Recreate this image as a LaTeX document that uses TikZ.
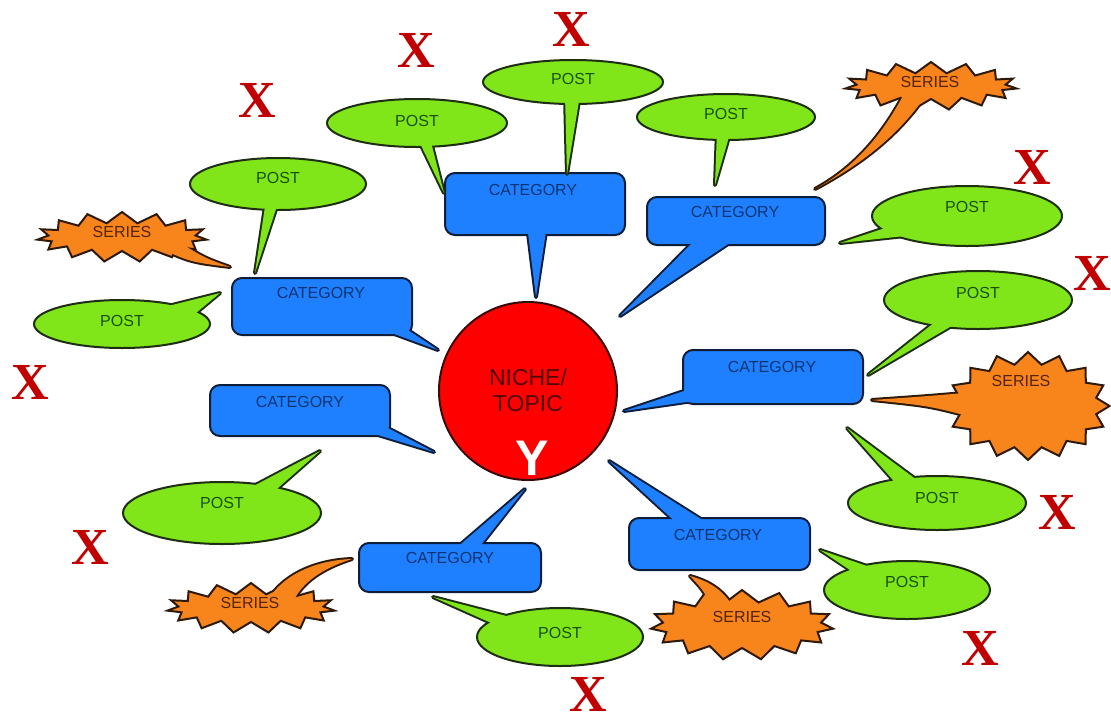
\documentclass[tikz,border=0pt]{standalone}
\usepackage{fontspec}
\setmainfont{Liberation Sans}
\newfontfamily\markfont{Liberation Serif}
\usetikzlibrary{shapes.geometric,shapes.symbols}

% palette
\definecolor{postfill}{HTML}{80E61A}
\definecolor{postedge}{HTML}{1E2E12}
\definecolor{posttxt}{HTML}{185208}
\definecolor{catfill}{HTML}{1E80FF}
\definecolor{catedge}{HTML}{0E1E3A}
\definecolor{cattxt}{HTML}{0B3475}
\definecolor{seriesfill}{HTML}{F8841C}
\definecolor{seriesedge}{HTML}{2E1A0A}
\definecolor{seriestxt}{HTML}{55220A}
\definecolor{nichefill}{HTML}{FF0000}
\definecolor{nicheedge}{HTML}{3A0A0A}
\definecolor{nichetxt}{HTML}{500808}
\definecolor{xred}{HTML}{C00000}

\tikzset{
  postbody/.style={ellipse, fill=postfill, draw=postedge, line width=2pt, inner sep=0pt},
  catbody/.style={rectangle, rounded corners=10pt, fill=catfill, draw=catedge, line width=2pt, inner sep=0pt},
  seriesbody/.style={starburst, starburst points=15, starburst point height=11pt, random starburst=0,
    fill=seriesfill, draw=seriesedge, line width=2pt, inner sep=0pt},
  posttext/.style={text=posttxt, font=\fontsize{16}{16}\selectfont},
  cattext/.style={text=cattxt, font=\fontsize{16}{16}\selectfont},
  seriestext/.style={text=seriestxt, font=\fontsize{16}{16}\selectfont},
  hubtext/.style={text=nichetxt, align=center, font=\fontsize{23}{26}\selectfont},
  ymark/.style={text=white, font=\bfseries\fontsize{50}{50}\selectfont, inner sep=0pt},
  xmark/.style={text=xred, font=\markfont\bfseries\fontsize{52}{52}\selectfont, inner sep=0pt},
}

% A speech bubble: tail with outline, then the body, then the tail
% filled again so that the body outline does not cross it.
% #1 fill, #2 outline, #3 tail path, #4 body node
\newcommand\bubble[4]{%
  \path[fill=#1, draw=#2, line width=4pt, line join=round] #3;
  #4
  \path[fill=#1] #3;}

\begin{document}
\begin{tikzpicture}[x=1pt, y=-1pt]
\useasboundingbox (0,0) rectangle (1111,721);

% central topic
\node[circle, minimum size=178pt, inner sep=0pt, fill=nichefill, draw=nicheedge, line width=2pt] (hub) at (528,391) {};
\node[hubtext] (hubname) at (528,390) {NICHE/\\TOPIC};
\node[ymark] (hubmark) at (532,458) {Y};

% categories
\bubble{catfill}{catedge}{(527,225) -- (536,297) -- (547,225) -- cycle}
  {\node[catbody, minimum width=180pt, minimum height=62pt] (cat1) at (535,204) {};}
\node[cattext] (cat1name) at (533,190) {CATEGORY};

\bubble{catfill}{catedge}{(697,238) -- (620,316) -- (737,238) -- cycle}
  {\node[catbody, minimum width=178pt, minimum height=48pt] (cat2) at (736,221) {};}
\node[cattext] (cat2name) at (735,212) {CATEGORY};

\bubble{catfill}{catedge}{(378,328) -- (438,350) -- (402,326) -- cycle}
  {\node[catbody, minimum width=180pt, minimum height=57pt] (cat3) at (322,306.5) {};}
\node[cattext] (cat3name) at (321,293) {CATEGORY};

\bubble{catfill}{catedge}{(355,428) -- (434,452) -- (384,426) -- cycle}
  {\node[catbody, minimum width=180pt, minimum height=51pt] (cat4) at (300,410.5) {};}
\node[cattext] (cat4name) at (300,402) {CATEGORY};

\bubble{catfill}{catedge}{(690,389) -- (624,411) -- (700,400) -- cycle}
  {\node[catbody, minimum width=180pt, minimum height=54pt] (cat5) at (773,377) {};}
\node[cattext] (cat5name) at (772,367) {CATEGORY};

\bubble{catfill}{catedge}{(454,550) -- (525,489) -- (477,550) -- cycle}
  {\node[catbody, minimum width=182pt, minimum height=49pt] (cat6) at (450,567.5) {};}
\node[cattext] (cat6name) at (450,558) {CATEGORY};

\bubble{catfill}{catedge}{(680,526) -- (609,461) -- (712,526) -- cycle}
  {\node[catbody, minimum width=181pt, minimum height=52pt] (cat7) at (719.5,544) {};}
\node[cattext] (cat7name) at (718,535) {CATEGORY};

% posts
\bubble{postfill}{postedge}{(416,135) -- (444,193) -- (430,138) -- cycle}
  {\node[postbody, minimum width=180pt, minimum height=48pt] (post1) at (417,123) {};}
\node[posttext] (post1name) at (417,121) {POST};

\bubble{postfill}{postedge}{(565,95) -- (567,174) -- (580,95) -- cycle}
  {\node[postbody, minimum width=180pt, minimum height=44pt] (post2) at (573,82) {};}
\node[posttext] (post2name) at (573,79) {POST};

\bubble{postfill}{postedge}{(717,130) -- (715,185) -- (731,130) -- cycle}
  {\node[postbody, minimum width=178pt, minimum height=46pt] (post3) at (726,117) {};}
\node[posttext] (post3name) at (726,114) {POST};

\bubble{postfill}{postedge}{(266,200) -- (255,273) -- (279,200) -- cycle}
  {\node[postbody, minimum width=176pt, minimum height=52pt] (post4) at (278,184) {};}
\node[posttext] (post4name) at (278,178) {POST};

\bubble{postfill}{postedge}{(160,308) -- (220,293) -- (190,318) -- cycle}
  {\node[postbody, minimum width=176pt, minimum height=48pt] (post5) at (122,324) {};}
\node[posttext] (post5name) at (122,321) {POST};

\bubble{postfill}{postedge}{(885,228) -- (840,243) -- (905,236) -- cycle}
  {\node[postbody, minimum width=190pt, minimum height=60pt] (post6) at (967,216) {};}
\node[posttext] (post6name) at (967,207) {POST};

\bubble{postfill}{postedge}{(935,322) -- (868,375) -- (955,324) -- cycle}
  {\node[postbody, minimum width=188pt, minimum height=58pt] (post7) at (978,300) {};}
\node[posttext] (post7name) at (978,293) {POST};

\bubble{postfill}{postedge}{(900,488) -- (847,428) -- (925,486) -- cycle}
  {\node[postbody, minimum width=178pt, minimum height=54pt] (post8) at (937,503) {};}
\node[posttext] (post8name) at (937,498) {POST};

\bubble{postfill}{postedge}{(856,574) -- (820,550) -- (873,568) -- cycle}
  {\node[postbody, minimum width=166pt, minimum height=58pt] (post9) at (907,590) {};}
\node[posttext] (post9name) at (907,582) {POST};

\bubble{postfill}{postedge}{(498,626) -- (433,597) -- (522,620) -- cycle}
  {\node[postbody, minimum width=166pt, minimum height=58pt] (post10) at (560,637) {};}
\node[posttext] (post10name) at (560,633) {POST};

\bubble{postfill}{postedge}{(246,490) -- (320,451) -- (270,495) -- cycle}
  {\node[postbody, minimum width=198pt, minimum height=62pt] (post11) at (222,513) {};}
\node[posttext] (post11name) at (222,503) {POST};

% series
\bubble{seriesfill}{seriesedge}{(155,246) .. controls (190,262) .. (230,267) .. controls (205,258) .. (182,244) -- cycle}
  {\node[seriesbody, minimum width=170pt, minimum height=50pt] (series1) at (122,237) {};}
\node[seriestext] (series1name) at (122,232) {SERIES};

\bubble{seriesfill}{seriesedge}{(905,92) .. controls (880,140) and (850,170) .. (815,189) .. controls (860,165) and (900,135) .. (928,92) -- cycle}
  {\node[seriesbody, minimum width=172pt, minimum height=48pt] (series2) at (931,86) {};}
\node[seriestext] (series2name) at (930,82) {SERIES};

\bubble{seriesfill}{seriesedge}{(975,392) .. controls (930,396) .. (872,400) .. controls (930,406) .. (975,418) -- cycle}
  {\node[seriesbody, starburst points=16, starburst point height=12pt, minimum width=163pt, minimum height=108pt] (series3) at (1028,406) {};}
\node[seriestext] (series3name) at (1021,381) {SERIES};

\bubble{seriesfill}{seriesedge}{(712,612) .. controls (705,592) .. (690,576) .. controls (712,582) and (725,592) .. (735,610) -- cycle}
  {\node[seriesbody, starburst point height=12pt, minimum width=183pt, minimum height=70pt] (series4) at (742,625) {};}
\node[seriestext] (series4name) at (742,617) {SERIES};

\bubble{seriesfill}{seriesedge}{(268,600) .. controls (285,572) and (320,560) .. (352,559) .. controls (330,566) and (305,578) .. (294,600) -- cycle}
  {\node[seriesbody, minimum width=168pt, minimum height=50pt] (series5) at (251,608) {};}
\node[seriestext] (series5name) at (250,603) {SERIES};

% X marks
\node[xmark] (mark1) at (416,50) {X};
\node[xmark] (mark2) at (571,29) {X};
\node[xmark] (mark3) at (257,100) {X};
\node[xmark] (mark4) at (1032,167) {X};
\node[xmark] (mark5) at (1092,273) {X};
\node[xmark] (mark6) at (30,382) {X};
\node[xmark] (mark7) at (90,547) {X};
\node[xmark] (mark8) at (1057,512) {X};
\node[xmark] (mark9) at (980,648) {X};
\node[xmark] (mark10) at (588,694) {X};
\end{tikzpicture}
\end{document}
